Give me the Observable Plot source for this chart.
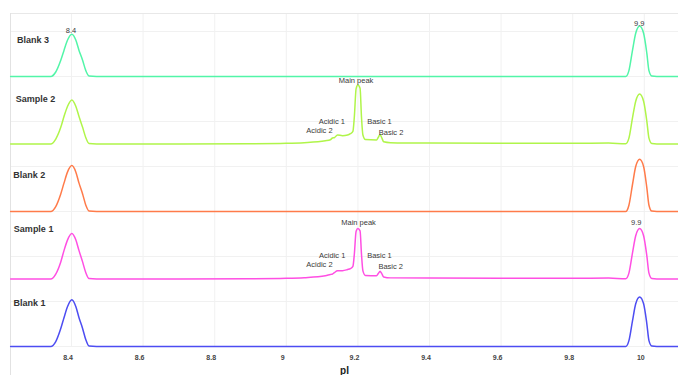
<!DOCTYPE html>
<html>
<head>
<meta charset="utf-8">
<script src="https://cdn.jsdelivr.net/npm/d3@7"></script>
<script src="https://cdn.jsdelivr.net/npm/@observablehq/plot@0.6"></script>
<style>
  body { margin: 0; background: #fff; }
  #chart { width: 678px; height: 375px; overflow: hidden; }
</style>
</head>
<body>
<div id="chart"></div>
<script>
// Shared pI sampling positions
const pI = [8.23, 8.30, 8.342, 8.356, 8.370, 8.379, 8.389, 8.401, 8.412, 8.421, 8.431, 8.440, 8.449, 8.47,
  8.7, 8.9, 9.0, 9.05, 9.109, 9.123, 9.129, 9.134, 9.143, 9.157, 9.171, 9.179, 9.186, 9.190, 9.195, 9.200,
  9.206, 9.210, 9.214, 9.221, 9.252, 9.257, 9.262, 9.266, 9.272, 9.291, 9.4, 9.6, 9.8,
  9.9, 9.948, 9.957, 9.967, 9.976, 9.987, 9.998, 10.007, 10.013, 10.021, 10.035, 10.096];

// Signal intensity of each trace at the positions above
const blank1 = [0, 0, 0, 1.1, 4.0, 6.4, 8.9, 10.4, 8.9, 6.4, 4.0, 1.5, 0.1, 0,
  0, 0, 0, 0, 0, 0, 0, 0, 0, 0, 0, 0, 0, 0, 0, 0,
  0, 0, 0, 0, 0, 0, 0, 0, 0, 0, 0, 0, 0,
  0, 0, 1.3, 5.7, 9.5, 11.0, 9.5, 5.1, 1.3, 0.1, 0, 0];
const sample1 = [0, 0, 0, 1.1, 3.8, 6.3, 8.7, 10.1, 8.7, 6.3, 3.8, 1.4, 0.1, 0,
  0, 0.05, 0.15, 0.3, 0.73, 1.0, 1.1, 1.4, 1.85, 1.85, 2.1, 2.3, 2.8, 5.5, 10.6, 11.2,
  10.7, 5.5, 1.8, 0.8, 0.73, 1.2, 1.7, 1.3, 0.45, 0.25, 0.2, 0.15, 0.15,
  0.2, 0.05, 1.3, 5.8, 9.6, 11.2, 9.6, 5.2, 1.3, 0.1, 0, 0];
const blank2 = [0, 0, 0, 1.1, 3.9, 6.3, 8.8, 10.2, 8.8, 6.3, 3.9, 1.4, 0.1, 0,
  0, 0, 0, 0, 0, 0, 0, 0, 0, 0, 0, 0, 0, 0, 0, 0,
  0, 0, 0, 0, 0, 0, 0, 0, 0, 0, 0, 0, 0,
  0, 0, 1.4, 6.0, 10.0, 11.6, 10.0, 5.3, 1.4, 0.1, 0, 0];
const sample2 = [0, 0, 0, 1.1, 3.7, 6.1, 8.4, 9.8, 8.4, 6.1, 3.7, 1.4, 0.1, 0,
  0, 0.05, 0.15, 0.3, 0.73, 0.95, 1.33, 1.4, 2.0, 1.85, 2.0, 2.3, 2.8, 6.0, 12.3, 13.1,
  12.4, 6.0, 2.0, 1.0, 0.9, 1.5, 2.1, 1.5, 0.5, 0.3, 0.2, 0.15, 0.15,
  0.2, 0.05, 1.3, 5.8, 9.5, 11.1, 9.5, 5.1, 1.3, 0.1, 0, 0];
const blank3 = [0, 0, 0, 1.0, 3.6, 5.8, 8.1, 9.4, 8.1, 5.8, 3.6, 1.3, 0.1, 0,
  0, 0, 0, 0, 0, 0, 0, 0, 0, 0, 0, 0, 0, 0, 0, 0,
  0, 0, 0, 0, 0, 0, 0, 0, 0, 0, 0, 0, 0,
  0, 0, 1.3, 5.8, 9.6, 11.2, 9.6, 5.2, 1.3, 0.1, 0, 0];

// Series, bottom to top
const seriesNames = ["Blank 1", "Sample 1", "Blank 2", "Sample 2", "Blank 3"];
const seriesValues = [blank1, sample1, blank2, sample2, blank3];
const seriesColors = ["#4d4df2", "#ff4fe3", "#ff7b4a", "#b0f54a", "#52f5a8"];

// Series name labels (data coordinates: pI, stacked intensity)
const seriesLabelX = [8.238, 8.239, 8.237, 8.244, 8.248];
const seriesLabelY = [9.6, 26, 38.1, 54.9, 68.1];

// Peak annotations
const peakText = ["8.4", "9.9", "Main peak", "Acidic 1", "Acidic 2", "Basic 1", "Basic 2",
  "Main peak", "Acidic 1", "Acidic 2", "Basic 1", "Basic 2", "9.9"];
const peakX = [8.3986, 9.9858, 9.1947, 9.1271, 9.0927, 9.2603, 9.2925,
  9.2017, 9.1282, 9.0927, 9.2603, 9.2916, 9.9777];
const peakY = [70.3, 71.8, 59.2, 49.9, 47.9, 49.9, 47.6,
  27.6, 20.1, 18.2, 20.1, 17.7, 27.6];

// X axis ticks
const xTicks = [8.4, 8.6, 8.8, 9.0, 9.2, 9.4, 9.6, 9.8, 10.0];
const xTickLabels = ["8.4", "8.6", "8.8", "9", "9.2", "9.4", "9.6", "9.8", "10"];

const STEP = 15; // vertical offset between stacked traces
const xDomain = [8.2296, 10.0955];
const yDomain = [0, 74];

const rows = [];
seriesNames.forEach((name, i) => {
  seriesValues[i].forEach((v, j) => {
    rows.push({series: name, pI: pI[j], level: v + i * STEP});
  });
});

const labels = seriesNames.map((name, i) => ({name, x: seriesLabelX[i], y: seriesLabelY[i]}));
const peaks = peakText.map((t, i) => ({t, x: peakX[i], y: peakY[i]}));

const chart = Plot.plot({
  width: 678,
  height: 375,
  marginLeft: 10,
  marginRight: 0,
  marginTop: 13,
  marginBottom: 29,
  style: {fontFamily: "'Liberation Sans', Arial, sans-serif", background: "#fff"},
  x: {domain: xDomain},
  y: {domain: yDomain, axis: null},
  color: {domain: seriesNames, range: seriesColors},
  marks: [
    Plot.gridY({interval: 10, stroke: "#f1f1f1", strokeOpacity: 1}),
    Plot.gridX(xTicks, {stroke: "#f1f1f1", strokeOpacity: 1}),
    Plot.ruleY([yDomain[1]], {stroke: "#e8e8e8"}),
    Plot.ruleX([xDomain[0]], {y1: yDomain[0] - 7, y2: yDomain[1], stroke: "#e2e2e2"}),
    Plot.axisX(xTicks, {
      tickSize: 0, tickPadding: 9, fontSize: 7, fontWeight: "bold", fill: "#444",
      dx: -3.5, label: null, tickFormat: (d, i) => xTickLabels[i]
    }),
    Plot.line(rows, {x: "pI", y: "level", z: "series", stroke: "series", curve: "monotone-x", strokeWidth: 1.5}),
    Plot.text(labels, {x: "x", y: "y", text: "name", textAnchor: "start", fontWeight: "bold", fontSize: 9, fill: "#333"}),
    Plot.text(peaks, {x: "x", y: "y", text: "t", fontSize: 7.5, fill: "#3a3a3a"}),
    Plot.text(["pI"], {frameAnchor: "bottom", dy: 27, text: d => d, fontWeight: "bold", fontSize: 10, fill: "#222"})
  ]
});
document.getElementById("chart").appendChild(chart);
</script>
</body>
</html>
